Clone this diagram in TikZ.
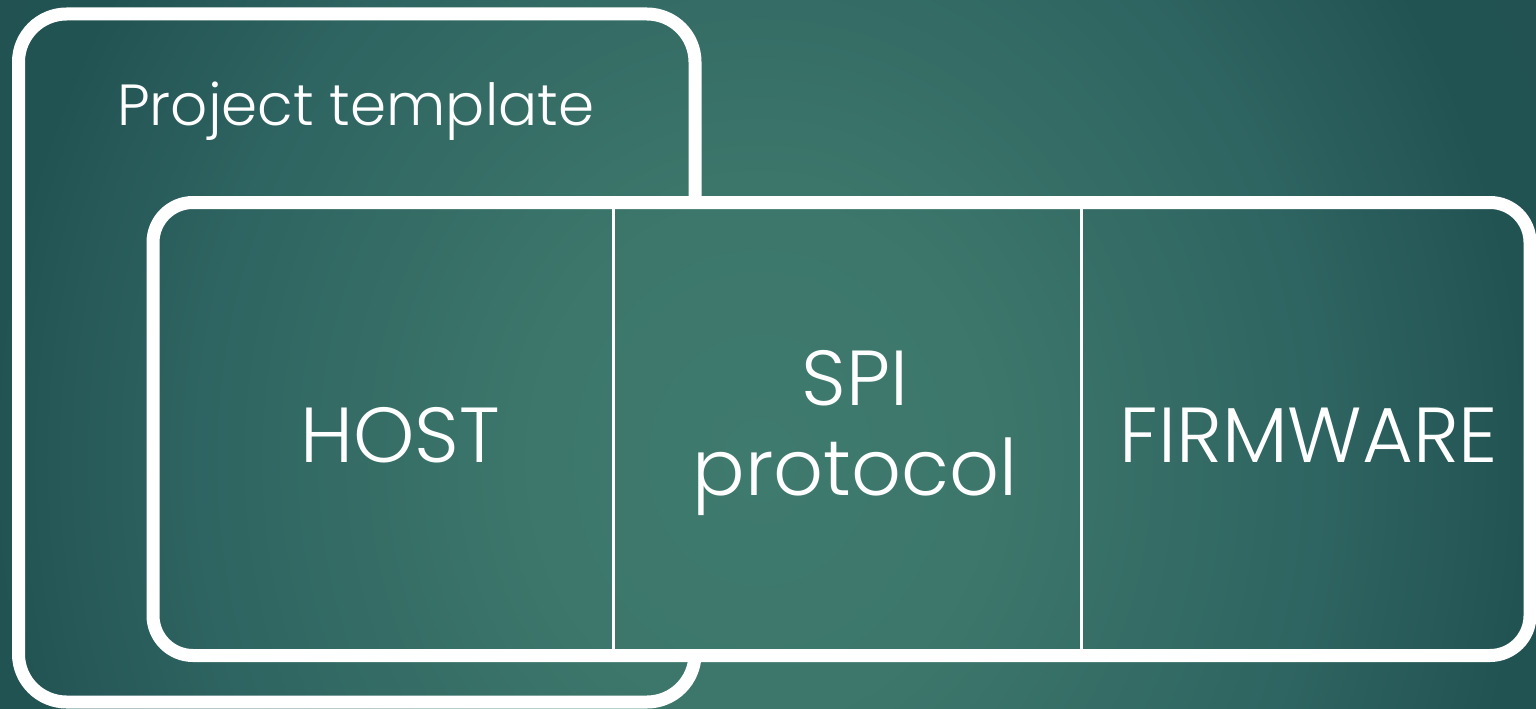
\documentclass[tikz,border=0pt]{standalone}
\usepackage{fontspec}
\setmainfont{Poppins Light}
\usetikzlibrary{positioning}
\definecolor{glowCenter}{HTML}{3F7A6E}
\definecolor{glowInner}{HTML}{3D776B}
\definecolor{glowMiddle}{HTML}{2E6461}
\definecolor{glowOuter}{HTML}{225353}
\definecolor{glowEdge}{HTML}{1F4D4D}
% central 50bp of the shading covers the path
\pgfdeclareradialshading{slideGlow}{\pgfpoint{0bp}{0bp}}{color(0bp)=(glowCenter); color(7bp)=(glowInner); color(17.5bp)=(glowMiddle); color(24bp)=(glowOuter); color(50bp)=(glowEdge)}
\tikzstyle{slide} = [x = 1pt, y = -1pt]
\tikzstyle{boxLine} = [draw=white, line width=13pt]
\tikzstyle{dividerLine} = [draw=white, line width=3pt]
\tikzstyle{bigText} = [text=white, inner sep=0pt, font=\fontsize{78}{90}\selectfont, align=center]
\tikzstyle{titleText} = [text=white, inner sep=0pt, font=\fontsize{58}{66}\selectfont]
\newcommand{\slideBackground}{\shade [shading=slideGlow] (-40,-440) rectangle (1560,1360);}
\newcommand{\innerBoxPath}{[rounded corners=40pt] (153,202.5) rectangle (1530,655.5)}

\begin{document}
\begin{tikzpicture}[slide]
  \useasboundingbox (0,0) rectangle (1536,709);
  \begin{scope}
    \clip (0,0) rectangle (1536,709);
    \slideBackground
  \end{scope}
  % project template box
  \draw [boxLine, rounded corners=48pt] (18.5,14) rectangle (695,702);
  \node [titleText, anchor=base west] (template) at (117,125) {Project template};
  % inner box covers the outer one
  \begin{scope}
    \clip \innerBoxPath;
    \slideBackground
  \end{scope}
  \draw [boxLine] \innerBoxPath;
  \draw [dividerLine] (613,209) -- (613,649);
  \draw [dividerLine] (1081,209) -- (1081,649);
  \node [bigText, anchor=base] (host) at (400,462) {HOST};
  \node [bigText, anchor=base] (spi) at (855,405) {SPI};
  \node [bigText, anchor=base] (protocol) at (855,495) {protocol};
  \node [bigText, anchor=base] (firmware) at (1309,462) {FIRMWARE};
\end{tikzpicture}
\end{document}
